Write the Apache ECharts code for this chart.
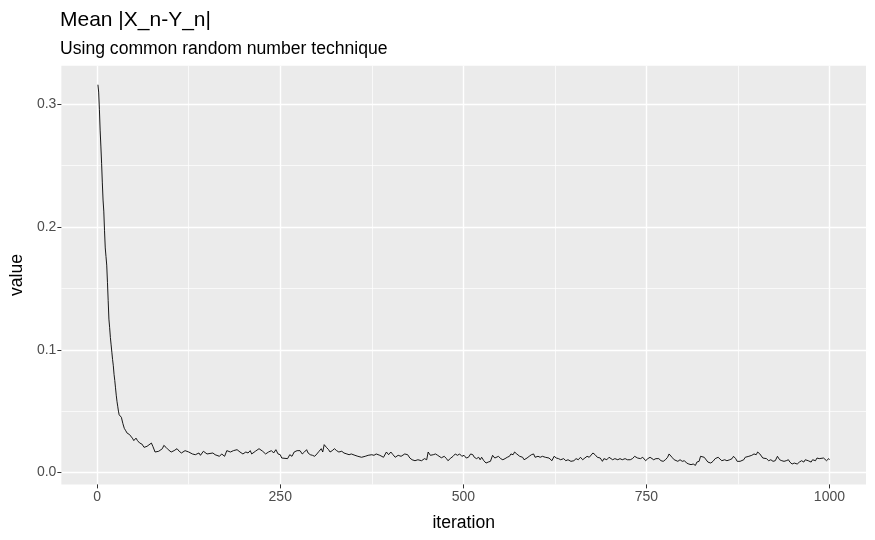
<!DOCTYPE html>
<html>
<head>
<meta charset="utf-8">
<script src="https://cdn.jsdelivr.net/npm/echarts@6/dist/echarts.min.js"></script>
<style>
html, body { margin: 0; background: #fff; }
#chart { width: 875px; height: 540px; }
</style>
</head>
<body>
<div id="chart"></div>
<script>
// steep start of the running mean
let iterEarly = [1, 2, 3, 4, 5, 6, 7, 8, 9, 10, 11, 12, 13, 14, 15, 16, 17, 18, 19, 20,
    21, 22, 23, 24, 25, 26, 27, 28, 29, 30, 31, 33, 35, 37, 39, 41, 44, 46, 48, 50, 53, 55, 58];
let valueEarly = [0.316, 0.310, 0.296, 0.279, 0.266, 0.252, 0.236, 0.222, 0.213, 0.197,
    0.183, 0.176, 0.169, 0.155, 0.140, 0.125, 0.118, 0.110, 0.104, 0.098,
    0.092, 0.087, 0.080, 0.075, 0.069, 0.063, 0.058, 0.054, 0.050, 0.047,
    0.046, 0.045, 0.040, 0.036, 0.034, 0.032, 0.031, 0.031, 0.028, 0.026, 0.028, 0.026, 0.024];

// flat, noisy part
let iterLate = [61, 64, 68, 74, 76, 79, 84, 89, 91, 94, 97, 101, 105, 109, 112, 115, 120, 125, 130, 134,
    139, 141, 145, 150, 152, 158, 161, 167, 170, 174, 177, 182, 186, 191, 195, 199, 203, 206, 209, 211,
    216, 221, 226, 230, 234, 238, 241, 244, 247, 250, 252, 260, 263,
    266, 269, 273, 275, 277, 280, 283, 286, 288, 291, 294, 297, 300, 303, 306, 308, 310, 313, 316, 318,
    321, 324, 327, 330, 334, 337, 341, 344, 347, 352, 356, 361, 366, 370, 375, 378, 381, 386, 391, 395,
    398, 401, 404, 407, 411, 415, 420, 424, 427, 430, 434, 438, 443, 447, 450, 452, 455, 459, 462, 465,
    470, 474, 477, 479, 483, 486, 489, 492, 495, 498, 501, 504, 507, 510, 513, 515, 518, 521, 523, 525,
    528, 531, 534, 537, 540, 543, 545, 548, 551, 554, 557, 560, 563, 565, 568, 570, 573, 577, 579, 581,
    583, 587, 590, 593, 596, 598, 602, 605, 608, 612, 614, 617, 621, 624, 627, 630, 633, 637, 640, 643,
    647, 651, 654, 657, 660, 663, 666, 669, 672,
    674, 677, 680, 683, 687, 690, 692, 696, 699, 701, 704, 707, 711, 714, 717, 721, 724, 728, 731, 734,
    736, 738, 740, 742, 745, 747, 749, 752, 755, 757, 760, 763, 765, 767, 770, 773, 776, 779, 781, 783,
    785, 788, 790, 793, 796, 799, 802, 805, 808, 811, 814, 817, 819, 822, 824, 826, 829, 831, 834, 838,
    841, 844, 848, 850, 853, 857, 860, 864, 867, 869, 872, 874, 876, 878,
    883, 885, 890, 894, 897, 900, 902, 905, 907, 909, 911, 914, 917, 920, 923, 926, 929, 932, 935, 938,
    941, 944, 946, 949, 952, 956, 959, 962, 965, 967, 969, 971, 975, 977, 981, 983, 986, 988, 992, 994,
    996, 999, 1000];
let valueLate = [0.0232, 0.0205, 0.0213, 0.0240, 0.0213, 0.0167, 0.0173, 0.0194, 0.0221, 0.0205,
    0.0186, 0.0167, 0.0178, 0.0194, 0.0173, 0.0159, 0.0178, 0.0167, 0.0151, 0.0145,
    0.0159, 0.0140, 0.0173, 0.0151, 0.0140, 0.0159, 0.0145, 0.0132, 0.0151, 0.0132,
    0.0178, 0.0167, 0.0178, 0.0186, 0.0167, 0.0151, 0.0167, 0.0159, 0.0178, 0.0151,
    0.0173, 0.0194, 0.0173, 0.0151, 0.0167, 0.0178, 0.0159, 0.0186, 0.0151, 0.0145,
    0.0118, 0.0113, 0.0145,
    0.0132, 0.0167, 0.0178, 0.0194, 0.0178, 0.0151, 0.0167, 0.0186, 0.0159, 0.0145,
    0.0140, 0.0132, 0.0151, 0.0173, 0.0194, 0.0167, 0.0227, 0.0205, 0.0186, 0.0167,
    0.0178, 0.0194, 0.0178, 0.0167, 0.0173, 0.0159, 0.0151, 0.0145, 0.0151, 0.0140,
    0.0132, 0.0124, 0.0132, 0.0140, 0.0145, 0.0140, 0.0151, 0.0140, 0.0124, 0.0167,
    0.0145, 0.0167, 0.0145, 0.0124, 0.0140, 0.0132, 0.0151, 0.0145, 0.0118, 0.0104,
    0.0096, 0.0104, 0.0096, 0.0113, 0.0104, 0.0167, 0.0140, 0.0145, 0.0151, 0.0140,
    0.0120, 0.0132, 0.0113, 0.0096, 0.0118, 0.0132, 0.0151, 0.0140, 0.0151, 0.0132,
    0.0140, 0.0118, 0.0124, 0.0151, 0.0145, 0.0124, 0.0113, 0.0124, 0.0104, 0.0124,
    0.0096, 0.0077, 0.0085, 0.0091, 0.0140, 0.0118, 0.0104, 0.0132, 0.0113, 0.0104,
    0.0113, 0.0124, 0.0132, 0.0151, 0.0145, 0.0167, 0.0151, 0.0132, 0.0145, 0.0124,
    0.0104, 0.0118, 0.0132, 0.0145, 0.0151, 0.0124, 0.0132, 0.0124, 0.0132, 0.0124,
    0.0113, 0.0118, 0.0096, 0.0132, 0.0118, 0.0113, 0.0104, 0.0113, 0.0096, 0.0104,
    0.0091, 0.0096, 0.0113, 0.0104, 0.0124, 0.0104, 0.0118, 0.0132, 0.0124,
    0.0140, 0.0159, 0.0145, 0.0124, 0.0118, 0.0091, 0.0113, 0.0104, 0.0124, 0.0132,
    0.0104, 0.0113, 0.0104, 0.0113, 0.0104, 0.0113, 0.0104, 0.0104, 0.0113, 0.0132,
    0.0140, 0.0118, 0.0132, 0.0113, 0.0124, 0.0113, 0.0096, 0.0113, 0.0124, 0.0140,
    0.0104, 0.0113, 0.0104, 0.0113, 0.0096, 0.0091, 0.0104, 0.0124, 0.0151, 0.0140,
    0.0124, 0.0104, 0.0113, 0.0091, 0.0104, 0.0091, 0.0096, 0.0077, 0.0069, 0.0064,
    0.0069, 0.0058, 0.0085, 0.0091, 0.0132, 0.0118, 0.0124, 0.0113, 0.0085, 0.0077,
    0.0091, 0.0113, 0.0124, 0.0113, 0.0096, 0.0104, 0.0096, 0.0104, 0.0113, 0.0132,
    0.0113, 0.0091, 0.0096, 0.0091,
    0.0104, 0.0124, 0.0132, 0.0140, 0.0151, 0.0145, 0.0167, 0.0151, 0.0140, 0.0118,
    0.0104, 0.0113, 0.0096, 0.0104, 0.0091, 0.0096, 0.0132, 0.0104, 0.0096, 0.0091,
    0.0096, 0.0104, 0.0085, 0.0069, 0.0077, 0.0069, 0.0085, 0.0096, 0.0085, 0.0104,
    0.0091, 0.0096, 0.0085, 0.0104, 0.0096, 0.0118, 0.0113, 0.0124, 0.0118, 0.0113,
    0.0096, 0.0113, 0.0104];

let xTicks = [0, 250, 500, 750, 1000];
let xMinorTicks = [125, 375, 625, 875];
let yTicks = [0, 0.1, 0.2, 0.3];
let yMinorTicks = [0.05, 0.15, 0.25];

let iterations = iterEarly.concat(iterLate);
let meanDiff = valueEarly.concat(valueLate);
let lineData = iterations.map((it, i) => [it, meanDiff[i]]);

// ggplot adds 5% on each side of the data range
let xMin = -48.95, xMax = 1049.95;
let yMin = -0.0097, yMax = 0.3315;

const font = 'Liberation Sans, Arial, sans-serif';

let optionChart = {
    animation: false,
    textStyle: { fontFamily: font },
    title: [
        {
            text: 'Mean |X_n-Y_n|',
            left: 60,
            top: 10,
            padding: 0,
            textStyle: { fontSize: 21, fontWeight: 'normal', color: '#000', fontFamily: font }
        },
        {
            text: 'Using common random number technique',
            left: 60,
            top: 40,
            padding: 0,
            textStyle: { fontSize: 17.6, fontWeight: 'normal', color: '#000', fontFamily: font }
        }
    ],
    grid: {
        left: 58.2,
        right: 9,
        top: 65.7,
        bottom: 55.6,
        show: true,
        backgroundColor: '#EBEBEB',
        borderWidth: 0
    },
    xAxis: [
        {
            type: 'value',
            position: 'bottom',
            min: xMin,
            max: xMax,
            name: 'iteration',
            nameLocation: 'middle',
            nameGap: 30,
            nameTextStyle: { fontSize: 17.6, color: '#000', fontFamily: font },
            axisLine: { show: false, onZero: false },
            axisTick: { show: true, length: 4, customValues: xTicks, lineStyle: { color: '#333', width: 1 } },
            axisLabel: { customValues: xTicks, fontSize: 14, color: '#4D4D4D', margin: 6, fontFamily: font,
                formatter: v => String(v) },
            splitLine: { show: true, lineStyle: { color: '#fff', width: 1.4 } }
        },
        {
            type: 'value',
            position: 'bottom',
            min: xMin,
            max: xMax,
            axisLine: { show: false, onZero: false },
            axisTick: { show: false, customValues: xMinorTicks },
            axisLabel: { show: false },
            splitLine: { show: true, lineStyle: { color: '#fff', width: 0.7 } }
        }
    ],
    yAxis: [
        {
            type: 'value',
            position: 'left',
            min: yMin,
            max: yMax,
            name: 'value',
            nameLocation: 'middle',
            nameGap: 34,
            nameTextStyle: { fontSize: 17.6, color: '#000', fontFamily: font },
            axisLine: { show: false, onZero: false },
            axisTick: { show: true, length: 4, customValues: yTicks, lineStyle: { color: '#333', width: 1 } },
            axisLabel: { customValues: yTicks, fontSize: 14, color: '#4D4D4D', margin: 5, fontFamily: font,
                formatter: v => v.toFixed(1) },
            splitLine: { show: true, lineStyle: { color: '#fff', width: 1.4 } }
        },
        {
            type: 'value',
            position: 'left',
            min: yMin,
            max: yMax,
            axisLine: { show: false, onZero: false },
            axisTick: { show: false, customValues: yMinorTicks },
            axisLabel: { show: false },
            splitLine: { show: true, lineStyle: { color: '#fff', width: 0.7 } }
        }
    ],
    series: [
        {
            name: 'value',
            type: 'line',
            data: lineData,
            showSymbol: false,
            symbol: 'none',
            lineStyle: { color: '#000', width: 0.9 },
            z: 5
        }
    ]
};

let chart = echarts.init(document.getElementById('chart'));
chart.setOption(optionChart);
</script>
</body>
</html>
